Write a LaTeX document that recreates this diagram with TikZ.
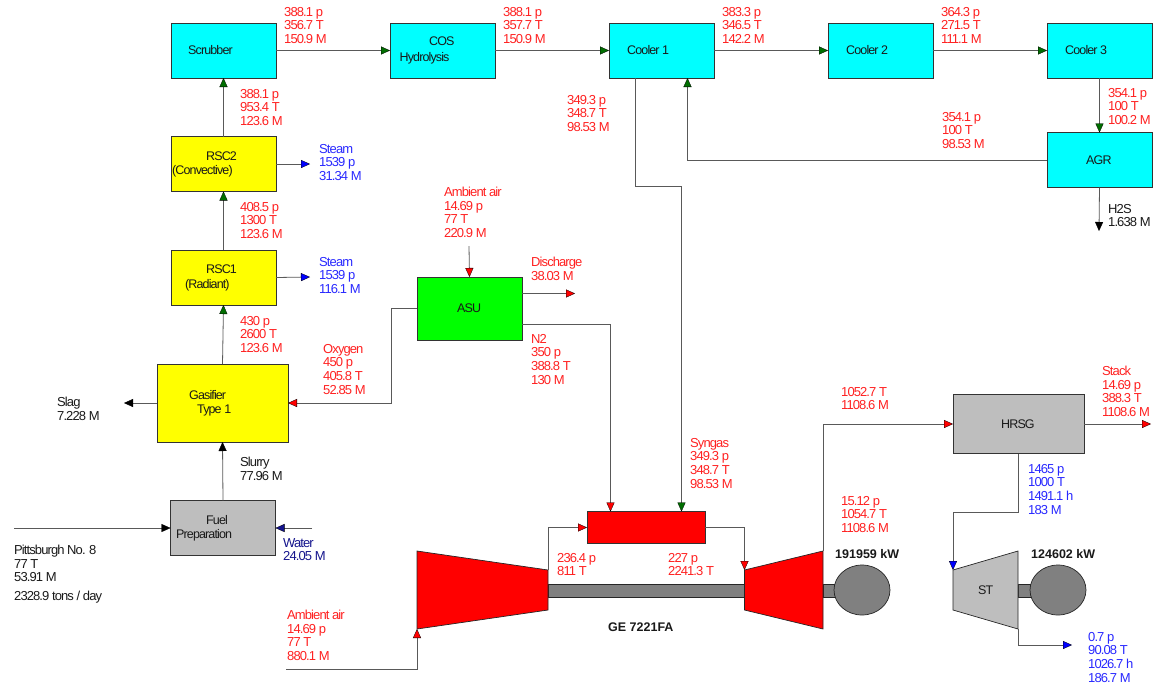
\documentclass[tikz,border=0pt]{standalone}
\usepackage{fontspec}
\setmainfont[LetterSpace=-7]{Liberation Sans}
\newfontfamily\boldlab{Liberation Sans Bold}
\usetikzlibrary{arrows.meta,shapes.geometric}
\definecolor{lred}{RGB}{255,32,32}
\definecolor{lblue}{RGB}{40,40,255}
\definecolor{lnavy}{RGB}{20,20,140}
\definecolor{ltxt}{RGB}{25,25,25}
\definecolor{cy}{RGB}{0,255,255}
\definecolor{ye}{RGB}{255,255,0}
\definecolor{gr}{RGB}{0,255,0}
\definecolor{lg}{RGB}{190,190,190}
\definecolor{mg}{RGB}{128,128,128}
\definecolor{dgr}{RGB}{0,110,0}
\tikzset{
  unit/.style={draw=black!80,line width=.8pt,inner sep=0,outer sep=0,minimum width=#1},
  lab/.style={anchor=north west,inner sep=0,yshift=-1pt,align=left,font=\fontsize{13}{13.6}\selectfont},
  rl/.style={lab,text=lred},
  bl/.style={lab,text=lblue},
  kl/.style={lab,text=ltxt},
  nl/.style={lab,text=lnavy},
  boldtxt/.style={anchor=west,inner sep=0,font=\boldlab\fontsize{12.5}{14}\selectfont,text=ltxt},
  ulabel/.style={inner sep=0,font=\fontsize{12.5}{14}\selectfont,text=ltxt,anchor=west},
  pipe/.style={draw=black!65,line width=.8pt},
  ag/.style={pipe,-{Triangle[fill=dgr,color=black,length=9pt,width=8pt,line width=.3pt]}},
  ar/.style={pipe,-{Triangle[fill=red,color=black,length=9pt,width=8pt,line width=.3pt]}},
  ab/.style={pipe,-{Triangle[fill=blue,color=black,length=9pt,width=8pt,line width=.3pt]}},
  an/.style={pipe,-{Triangle[fill=lnavy,color=black,length=9pt,width=8pt,line width=.3pt]}},
  ak/.style={pipe,-{Triangle[fill=black,color=black,length=9pt,width=8pt,line width=.3pt]}},
  machine/.style={draw=black!85,line width=.7pt},
  gen/.style={machine,fill=mg,ellipse,minimum width=56pt,minimum height=50pt,inner sep=0},
}
\begin{document}
\begin{tikzpicture}[x=1pt,y=-1pt]
\useasboundingbox (0,0) rectangle (1154,689);
% blocks
\node[unit=105pt,minimum height=55pt,fill=cy] (scr) at (223.5,50.5) {};
\node[unit=105pt,minimum height=55pt,fill=cy] (cos) at (442.5,50.5) {};
\node[unit=105pt,minimum height=55pt,fill=cy] (c1) at (661.5,50.5) {};
\node[unit=105pt,minimum height=55pt,fill=cy] (c2) at (880.5,50.5) {};
\node[unit=105pt,minimum height=55pt,fill=cy] (c3) at (1099.5,50.5) {};
\node[unit=105pt,minimum height=55pt,fill=cy] (agr) at (1099.5,160) {};
\node[unit=105pt,minimum height=55pt,fill=ye] (rsc2) at (223.5,164) {};
\node[unit=105pt,minimum height=55pt,fill=ye] (rsc1) at (223.5,277.5) {};
\node[unit=131pt,minimum height=78pt,fill=ye] (gas) at (222.5,403) {};
\node[unit=105pt,minimum height=55pt,fill=lg] (fuel) at (223,528) {};
\node[unit=105pt,minimum height=63pt,fill=gr] (asu) at (469.5,308.5) {};
\node[unit=118pt,minimum height=32pt,fill=red] (comb) at (646,527.5) {};
\node[unit=131pt,minimum height=59pt,fill=lg] (hrsg) at (1018.5,424) {};
% shafts
\draw[machine,fill=mg] (548,584) rectangle (745,597);
\draw[machine,fill=mg] (823,584) rectangle (836,597);
\draw[machine,fill=mg] (1018,584) rectangle (1032,597);
% turbines
\draw[machine,fill=red] (417,551) -- (548,570) -- (548,610) -- (417,629) -- cycle;
\coordinate (compin) at (417,629);
\coordinate (compout) at (548,570);
\draw[machine,fill=red] (744.5,570) -- (823,551) -- (823,629) -- (744.5,610) -- cycle;
\coordinate (turbin) at (744.5,570);
\coordinate (turbout) at (823,551);
\draw[machine,fill=lg] (953,570) -- (1018,551) -- (1018,629) -- (953,610) -- cycle;
\coordinate (stin) at (953,570);
\coordinate (stout) at (1018,629);
\node[gen] (gen1) at (862,590) {};
\node[gen] (gen2) at (1058,590) {};
% free ends
\coordinate (coalin) at (14,528);
\coordinate (waterin) at (312,528);
\coordinate (slagout) at (124,403);
\coordinate (airin) at (286,669);
\coordinate (asuair) at (469,246);
\coordinate (disch) at (575,293.5);
\coordinate (s2) at (310,164);
\coordinate (s1) at (310,277);
\coordinate (h2s) at (1099,231);
\coordinate (stack) at (1151,424);
\coordinate (stex) at (1072,645);
% connectors
\draw[ag] (scr.east) -- (cos.west);
\draw[ag] (cos.east) -- (c1.west);
\draw[ag] (c1.east) -- (c2.west);
\draw[ag] (c2.east) -- (c3.west);
\draw[ag] (c3.south) -- (agr.north);
\draw[ag] (agr.west) -- (687.5,160) -- (687.5,78);
\draw[ag] (635.5,78) -- (635.5,186.5) -- (681.5,186.5) -- (681.5,511.5);
\draw[ag] (rsc2.north) -- (scr.south);
\draw[ag] (rsc1.north) -- (rsc2.south);
\draw[ag] (gas.north) -- (rsc1.south);
\draw[ak] (fuel.north) -- (gas.south);
\draw[ak] (gas.west) -- (slagout);
\draw[ak] (coalin) -- (fuel.west);
\draw[an] (waterin) -- (fuel.east);
\draw[ab] (rsc2.east) -- (s2);
\draw[ab] (rsc1.east) -- (s1);
\draw[ar] (asuair) -- (asu.north);
\draw[ar] (asu.east |- disch) -- (disch);
\draw[ar] (asu.west) -- (391,308.5) -- (391,403) -- (gas.east);
\draw[ar] (522,324) -- (610.5,324) -- (610.5,511.5);
\draw[ar] (compout) -- (548,527.5) -- (comb.west);
\draw[ar] (comb.east) -- (744.5,527.5) -- (turbin);
\draw[ar] (airin) -- (417,669) -- (compin);
\draw[ar] (turbout) -- (823,424) -- (hrsg.west);
\draw[ar] (hrsg.east) -- (stack);
\draw[ab] (1018.5,453.5) -- (1018.5,512) -- (953,512) -- (stin);
\draw[ab] (stout) -- (1018,645) -- (stex);
\draw[ak] (agr.south) -- (h2s);
% captions in units
\node[ulabel] at (188,50.5) {Scrubber};
\node[ulabel] at (429,41.5) {COS};
\node[ulabel] at (399.5,58) {Hydrolysis};
\node[ulabel] at (627,50.5) {Cooler 1};
\node[ulabel] at (846,50.5) {Cooler 2};
\node[ulabel] at (1065,50.5) {Cooler 3};
\node[ulabel] at (1086,160) {AGR};
\node[ulabel] at (206,156) {RSC2};
\node[ulabel] at (172,171) {(Convective)};
\node[ulabel] at (206,269) {RSC1};
\node[ulabel] at (185,285) {(Radiant)};
\node[ulabel] at (189,395) {Gasifier};
\node[ulabel] at (197,410) {Type 1};
\node[ulabel] at (206,520) {Fuel};
\node[ulabel] at (176,535) {Preparation};
\node[ulabel] at (457,308) {ASU};
\node[ulabel] at (1001,424) {HRSG};
\node[ulabel] at (978,590) {ST};
% stream labels
\node[rl] at (284,6) {388.1 p\\356.7 T\\150.9 M};
\node[rl] at (503,6) {388.1 p\\357.7 T\\150.9 M};
\node[rl] at (722,6) {383.3 p\\346.5 T\\142.2 M};
\node[rl] at (941,6) {364.3 p\\271.5 T\\111.1 M};
\node[rl] at (1108,87) {354.1 p\\100 T\\100.2 M};
\node[rl] at (942,111) {354.1 p\\100 T\\98.53 M};
\node[rl] at (567,94) {349.3 p\\348.7 T\\98.53 M};
\node[rl] at (240,88) {388.1 p\\953.4 T\\123.6 M};
\node[rl] at (240,201) {408.5 p\\1300 T\\123.6 M};
\node[rl] at (240,315) {430 p\\2600 T\\123.6 M};
\node[bl] at (319,143) {Steam\\1539 p\\31.34 M};
\node[bl] at (319,256) {Steam\\1539 p\\116.1 M};
\node[rl] at (444,186) {Ambient air\\14.69 p\\77 T\\220.9 M};
\node[rl] at (531,256) {Discharge\\38.03 M};
\node[rl] at (531,333) {N2\\350 p\\388.8 T\\130 M};
\node[rl] at (323,343) {Oxygen\\450 p\\405.8 T\\52.85 M};
\node[kl] at (57,396) {Slag\\7.228 M};
\node[kl] at (240,456) {Slurry\\77.96 M};
\node[nl] at (283,537) {Water\\24.05 M};
\node[kl] at (1108,203) {H2S\\1.638 M};
\node[kl] at (14,544) {Pittsburgh No. 8\\77 T\\53.91 M};
\node[kl] at (14,590) {2328.9 tons / day};
\node[rl] at (287,609) {Ambient air\\14.69 p\\77 T\\880.1 M};
\node[rl] at (690,437) {Syngas\\349.3 p\\348.7 T\\98.53 M};
\node[rl] at (557,552) {236.4 p\\811 T};
\node[rl] at (668,552) {227 p\\2241.3 T};
\node[rl] at (841,386) {1052.7 T\\1108.6 M};
\node[rl] at (841,495) {15.12 p\\1054.7 T\\1108.6 M};
\node[rl] at (1102,365) {Stack\\14.69 p\\388.3 T\\1108.6 M};
\node[bl] at (1028,463) {1465 p\\1000 T\\1491.1 h\\183 M};
\node[bl] at (1088,631) {0.7 p\\90.08 T\\1026.7 h\\186.7 M};
\node[boldtxt] at (835,554) {191959 kW};
\node[boldtxt] at (1031,554) {124602 kW};
\node[boldtxt] at (608,627) {GE 7221FA};
\end{tikzpicture}
\end{document}
